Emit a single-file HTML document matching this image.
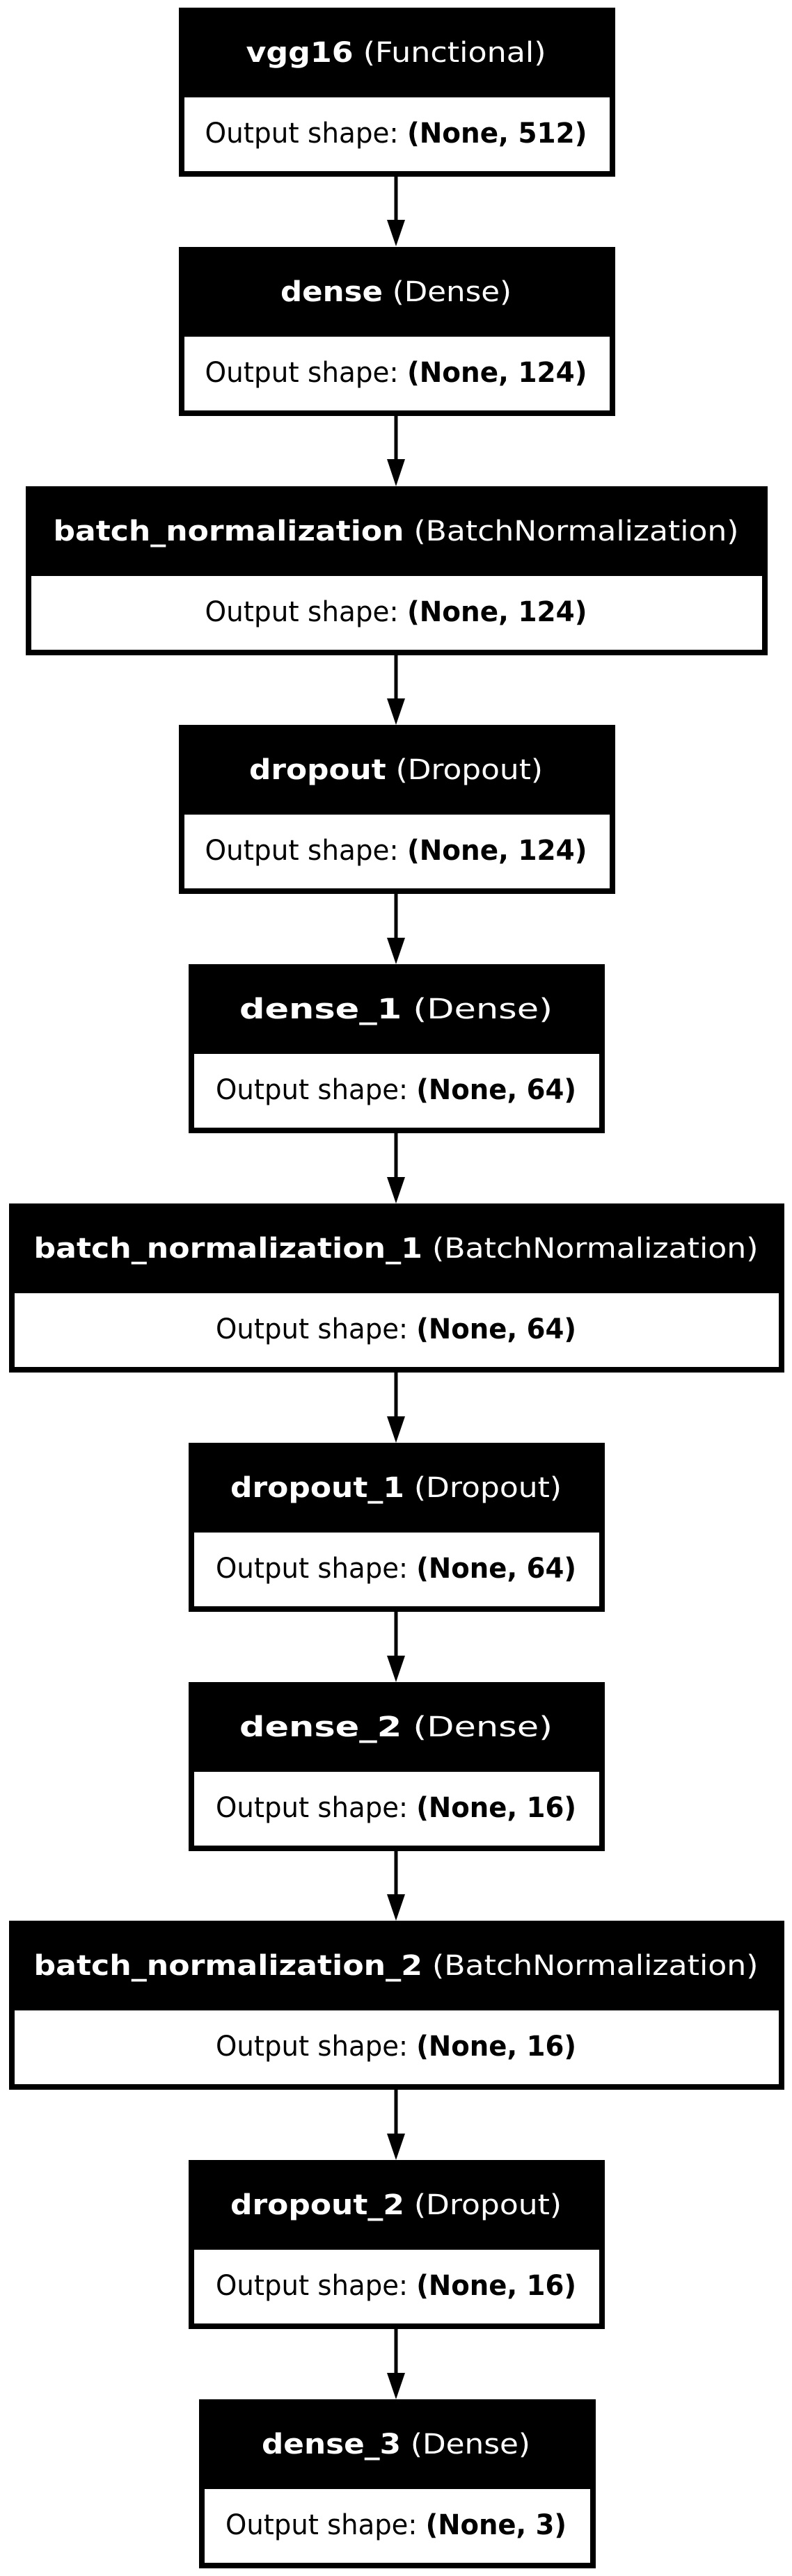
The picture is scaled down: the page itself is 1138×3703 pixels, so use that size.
<!DOCTYPE html>
<html><head><meta charset="utf-8"><style>
html,body{margin:0;padding:0;background:#fff}
svg{display:block}
text{font-family:"DejaVu Sans","Liberation Sans",sans-serif;font-size:40px}
</style></head><body>
<svg width="1138" height="3703" viewBox="0 0 1138 3703" xmlns="http://www.w3.org/2000/svg">
<g id="boxes">
<rect x="257" y="11" width="627" height="243" fill="#000"/><rect x="265" y="140" width="611" height="106" fill="#fff"/>
<text x="569" y="89" fill="#fff" text-anchor="middle" textLength="431" lengthAdjust="spacingAndGlyphs"><tspan font-weight="bold">vgg16</tspan> (Functional)</text>
<text x="569" y="205" fill="#000" text-anchor="middle" textLength="549" lengthAdjust="spacingAndGlyphs">Output shape: <tspan font-weight="bold">(None, 512)</tspan></text>

<rect x="257" y="355" width="627" height="243" fill="#000"/><rect x="265" y="484" width="611" height="106" fill="#fff"/>
<text x="569" y="433" fill="#fff" text-anchor="middle" textLength="332" lengthAdjust="spacingAndGlyphs"><tspan font-weight="bold">dense</tspan> (Dense)</text>
<text x="569" y="549" fill="#000" text-anchor="middle" textLength="549" lengthAdjust="spacingAndGlyphs">Output shape: <tspan font-weight="bold">(None, 124)</tspan></text>

<rect x="37" y="699" width="1066" height="243" fill="#000"/><rect x="45" y="828" width="1050" height="106" fill="#fff"/>
<text x="569" y="777" fill="#fff" text-anchor="middle" textLength="985" lengthAdjust="spacingAndGlyphs"><tspan font-weight="bold">batch_normalization</tspan> (BatchNormalization)</text>
<text x="569" y="893" fill="#000" text-anchor="middle" textLength="549" lengthAdjust="spacingAndGlyphs">Output shape: <tspan font-weight="bold">(None, 124)</tspan></text>

<rect x="257" y="1042" width="627" height="243" fill="#000"/><rect x="265" y="1171" width="611" height="106" fill="#fff"/>
<text x="569" y="1120" fill="#fff" text-anchor="middle" textLength="422" lengthAdjust="spacingAndGlyphs"><tspan font-weight="bold">dropout</tspan> (Dropout)</text>
<text x="569" y="1236" fill="#000" text-anchor="middle" textLength="549" lengthAdjust="spacingAndGlyphs">Output shape: <tspan font-weight="bold">(None, 124)</tspan></text>

<rect x="271" y="1386" width="598" height="243" fill="#000"/><rect x="279" y="1515" width="582" height="106" fill="#fff"/>
<text x="569" y="1464" fill="#fff" text-anchor="middle" textLength="450" lengthAdjust="spacingAndGlyphs"><tspan font-weight="bold">dense_1</tspan> (Dense)</text>
<text x="569" y="1580" fill="#000" text-anchor="middle" textLength="518" lengthAdjust="spacingAndGlyphs">Output shape: <tspan font-weight="bold">(None, 64)</tspan></text>

<rect x="13" y="1730" width="1114" height="243" fill="#000"/><rect x="21" y="1859" width="1098" height="106" fill="#fff"/>
<text x="569" y="1808" fill="#fff" text-anchor="middle" textLength="1041" lengthAdjust="spacingAndGlyphs"><tspan font-weight="bold">batch_normalization_1</tspan> (BatchNormalization)</text>
<text x="569" y="1924" fill="#000" text-anchor="middle" textLength="518" lengthAdjust="spacingAndGlyphs">Output shape: <tspan font-weight="bold">(None, 64)</tspan></text>

<rect x="271" y="2074" width="598" height="243" fill="#000"/><rect x="279" y="2203" width="582" height="106" fill="#fff"/>
<text x="569" y="2152" fill="#fff" text-anchor="middle" textLength="476" lengthAdjust="spacingAndGlyphs"><tspan font-weight="bold">dropout_1</tspan> (Dropout)</text>
<text x="569" y="2268" fill="#000" text-anchor="middle" textLength="518" lengthAdjust="spacingAndGlyphs">Output shape: <tspan font-weight="bold">(None, 64)</tspan></text>

<rect x="271" y="2418" width="598" height="243" fill="#000"/><rect x="279" y="2547" width="582" height="106" fill="#fff"/>
<text x="569" y="2496" fill="#fff" text-anchor="middle" textLength="450" lengthAdjust="spacingAndGlyphs"><tspan font-weight="bold">dense_2</tspan> (Dense)</text>
<text x="569" y="2612" fill="#000" text-anchor="middle" textLength="518" lengthAdjust="spacingAndGlyphs">Output shape: <tspan font-weight="bold">(None, 16)</tspan></text>

<rect x="13" y="2761" width="1114" height="243" fill="#000"/><rect x="21" y="2890" width="1098" height="106" fill="#fff"/>
<text x="569" y="2839" fill="#fff" text-anchor="middle" textLength="1041" lengthAdjust="spacingAndGlyphs"><tspan font-weight="bold">batch_normalization_2</tspan> (BatchNormalization)</text>
<text x="569" y="2955" fill="#000" text-anchor="middle" textLength="518" lengthAdjust="spacingAndGlyphs">Output shape: <tspan font-weight="bold">(None, 16)</tspan></text>

<rect x="271" y="3105" width="598" height="243" fill="#000"/><rect x="279" y="3234" width="582" height="106" fill="#fff"/>
<text x="569" y="3183" fill="#fff" text-anchor="middle" textLength="476" lengthAdjust="spacingAndGlyphs"><tspan font-weight="bold">dropout_2</tspan> (Dropout)</text>
<text x="569" y="3299" fill="#000" text-anchor="middle" textLength="518" lengthAdjust="spacingAndGlyphs">Output shape: <tspan font-weight="bold">(None, 16)</tspan></text>

<rect x="286" y="3449" width="570" height="243" fill="#000"/><rect x="294" y="3578" width="554" height="106" fill="#fff"/>
<text x="569" y="3527" fill="#fff" text-anchor="middle" textLength="386" lengthAdjust="spacingAndGlyphs"><tspan font-weight="bold">dense_3</tspan> (Dense)</text>
<text x="569" y="3643" fill="#000" text-anchor="middle" textLength="490" lengthAdjust="spacingAndGlyphs">Output shape: <tspan font-weight="bold">(None, 3)</tspan></text>
</g>
<g fill="#000" stroke="none">
<rect x="566.5" y="254" width="5" height="64"/><polygon points="556,316 582,316 569,354"/>
<rect x="566.5" y="598" width="5" height="64"/><polygon points="556,660 582,660 569,699"/>
<rect x="566.5" y="942" width="5" height="63"/><polygon points="556,1004 582,1004 569,1042"/>
<rect x="566.5" y="1285" width="5" height="64"/><polygon points="556,1348 582,1348 569,1386"/>
<rect x="566.5" y="1629" width="5" height="64"/><polygon points="556,1692 582,1692 569,1730"/>
<rect x="566.5" y="1973" width="5" height="64"/><polygon points="556,2036 582,2036 569,2074"/>
<rect x="566.5" y="2317" width="5" height="64"/><polygon points="556,2380 582,2380 569,2418"/>
<rect x="566.5" y="2661" width="5" height="63"/><polygon points="556,2723 582,2723 569,2761"/>
<rect x="566.5" y="3004" width="5" height="64"/><polygon points="556,3067 582,3067 569,3105"/>
<rect x="566.5" y="3348" width="5" height="64"/><polygon points="556,3411 582,3411 569,3449"/>
</g>
</svg>
</body></html>
